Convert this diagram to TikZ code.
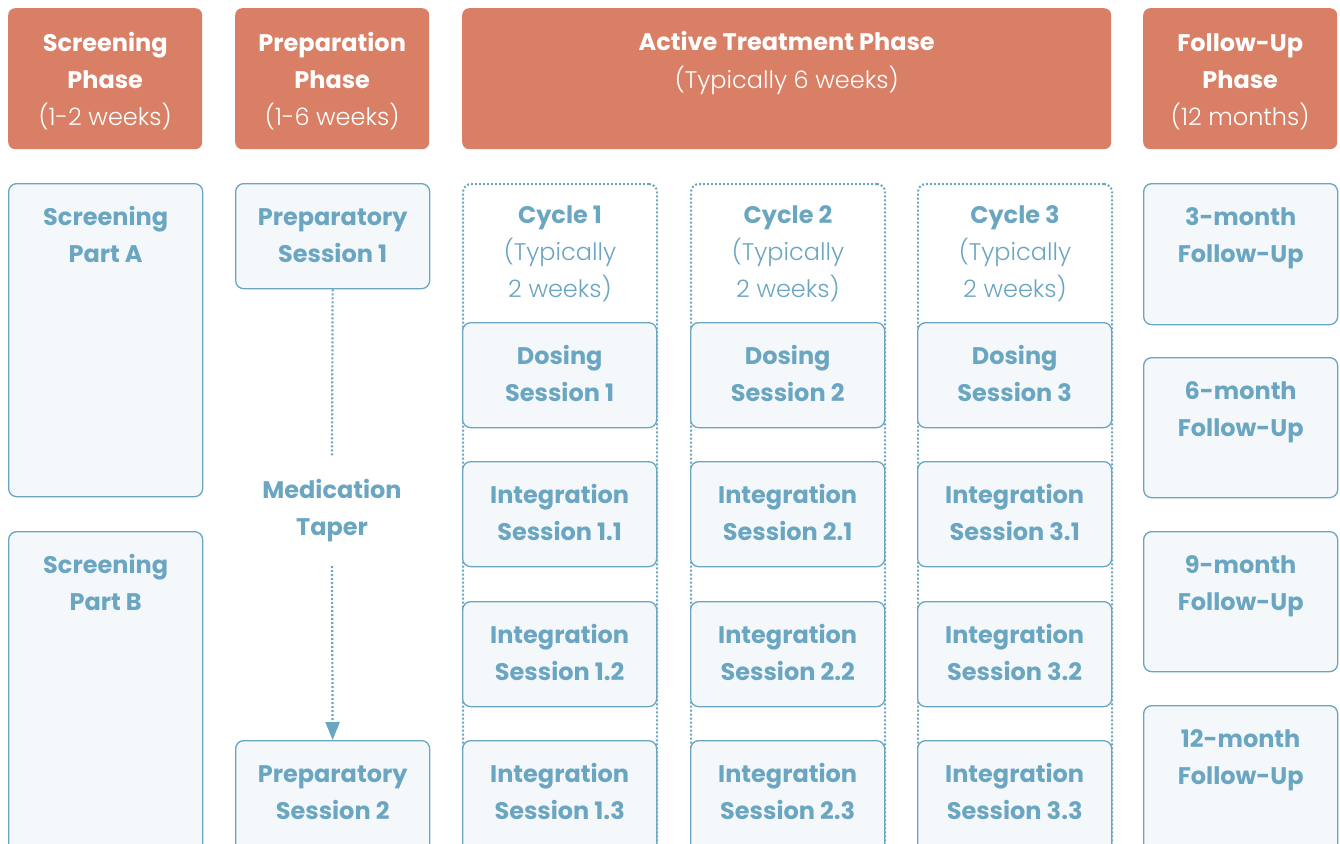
\documentclass[tikz,border=0pt]{standalone}
\usepackage{fontspec}
\setmainfont{Poppins}
\newfontfamily\lightfont{Poppins Light}
\usetikzlibrary{arrows.meta}
\definecolor{hdr}{HTML}{D97F66}
\definecolor{bl}{HTML}{6AA6C1}
\definecolor{bfill}{HTML}{F4F8FB}
\tikzset{
  hdrbox/.style={fill=hdr, draw=none, rounded corners=7pt, inner sep=0pt, anchor=north west},
  sbox/.style={fill=bfill, draw=bl, line width=1.3pt, rounded corners=8pt, inner sep=0pt, anchor=north west, minimum width=194pt},
  cyc/.style={draw=bl, line width=2pt, dash pattern=on 2pt off 2pt, line cap=butt, rounded corners=8pt, inner sep=0pt, anchor=north west, minimum width=194pt},
  htxt/.style={text=white, align=center, font=\fontsize{24}{37}\selectfont, anchor=base, inner sep=0pt},
  btxt/.style={text=bl, align=center, font=\fontsize{24}{37}\selectfont\bfseries, anchor=base, inner sep=0pt},
  ctxt/.style={text=bl, align=center, font=\fontsize{24}{37}\selectfont, anchor=base, inner sep=0pt},
  dotline/.style={draw=bl, line width=2.2pt, dash pattern=on 2pt off 2pt, line cap=butt},
}
\begin{document}
\begin{tikzpicture}[x=1pt,y=-1pt]
\useasboundingbox (0,0) rectangle (1340,843);
\clip (0,0) rectangle (1340,843);
% headers
\node[hdrbox, minimum width=194pt, minimum height=141pt] (hs) at (8,8) {};
\node[htxt] (hst) at ([yshift=-117pt]hs.north) {\textbf{Screening}\\\textbf{Phase}\\{\lightfont(1-2 weeks)}};
\node[hdrbox, minimum width=194pt, minimum height=141pt] (hp) at (235,8) {};
\node[htxt] (hpt) at ([yshift=-117pt]hp.north) {\textbf{Preparation}\\\textbf{Phase}\\{\lightfont(1-6 weeks)}};
\node[hdrbox, minimum width=649pt, minimum height=141pt] (ha) at (462,8) {};
\node[htxt] (hat) at ([yshift=-80pt]ha.north) {\textbf{Active Treatment Phase}\\{\lightfont(Typically 6 weeks)}};
\node[hdrbox, minimum width=194pt, minimum height=141pt] (hf) at (1143,8) {};
\node[htxt] (hft) at ([yshift=-117pt]hf.north) {\textbf{Follow-Up}\\\textbf{Phase}\\{\lightfont(12 months)}};
% screening
\node[sbox, minimum height=313pt] (sa) at (8,183) {};
\node[btxt] (sat) at ([yshift=-79pt]sa.north) {Screening\\Part A};
\node[sbox, minimum height=360pt] (sb) at (8,531) {};
\node[btxt] (sbt) at ([yshift=-79pt]sb.north) {Screening\\Part B};
% preparation
\node[sbox, minimum height=105pt] (ps1) at (235,183) {};
\node[btxt] (ps1t) at ([yshift=-79pt]ps1.north) {Preparatory\\Session 1};
\node[sbox, minimum height=160pt] (ps2) at (235,740) {};
\node[btxt] (ps2t) at ([yshift=-79pt]ps2.north) {Preparatory\\Session 2};
\node[text=bl, align=center, font=\fontsize{24}{37}\selectfont\bfseries, minimum height=110pt, inner sep=0pt] (taper) at (332,511) {Medication\\Taper};
\draw[dotline] (ps1.south) -- (taper.north);
\draw[dotline, -{Triangle[length=18pt,width=14pt]}] (taper.south) -- (ps2.north);
% cycles
\foreach \i/\x in {1/462,2/690,3/917}{
  \node[cyc, minimum height=720pt] (cyc\i) at (\x,183) {};
  \node[ctxt] (cyc\i t) at ([yshift=-114pt]cyc\i.north) {\textbf{Cycle \i}\\{\lightfont(Typically}\\{\lightfont 2 weeks)}};
  \node[sbox, minimum height=105pt] (dos\i) at (\x,322) {};
  \node[btxt] (dos\i t) at ([yshift=-79pt]dos\i.north) {Dosing\\Session \i};
  \node[sbox, minimum height=105pt] (int\i a) at (\x,461) {};
  \node[btxt] (int\i at) at ([yshift=-79pt]int\i a.north) {Integration\\Session \i.1};
  \node[sbox, minimum height=105pt] (int\i b) at (\x,601) {};
  \node[btxt] (int\i bt) at ([yshift=-79pt]int\i b.north) {Integration\\Session \i.2};
  \node[sbox, minimum height=160pt] (int\i c) at (\x,740) {};
  \node[btxt] (int\i ct) at ([yshift=-79pt]int\i c.north) {Integration\\Session \i.3};
}
% follow-ups
\node[sbox, minimum height=141pt] (f3) at (1143,183) {};
\node[btxt] (f3t) at ([yshift=-79pt]f3.north) {3-month\\Follow-Up};
\node[sbox, minimum height=140pt] (f6) at (1143,357) {};
\node[btxt] (f6t) at ([yshift=-79pt]f6.north) {6-month\\Follow-Up};
\node[sbox, minimum height=140pt] (f9) at (1143,531) {};
\node[btxt] (f9t) at ([yshift=-79pt]f9.north) {9-month\\Follow-Up};
\node[sbox, minimum height=180pt] (f12) at (1143,705) {};
\node[btxt] (f12t) at ([yshift=-79pt]f12.north) {12-month\\Follow-Up};
\end{tikzpicture}
\end{document}
